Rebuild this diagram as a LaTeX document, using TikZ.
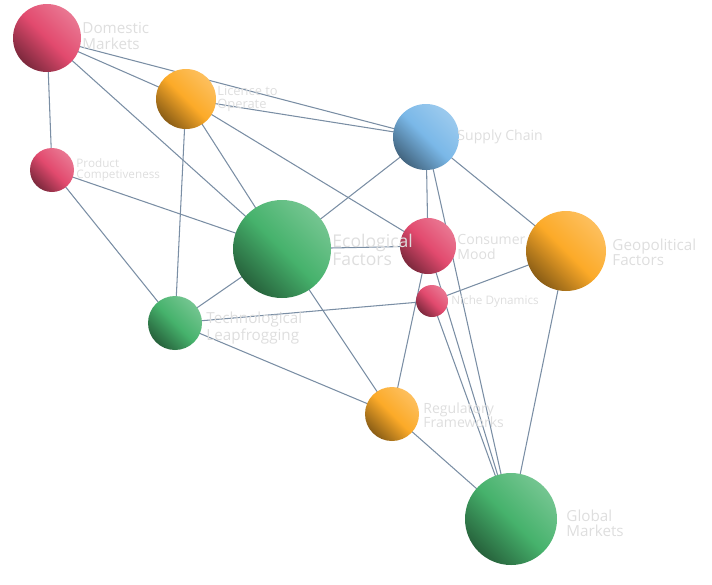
\documentclass[tikz,border=0pt]{standalone}
\usepackage{fontspec}
\setsansfont{Open Sans}
\usepackage{tikz}

\definecolor{linkcol}{RGB}{122,142,164}
\definecolor{txtcol}{RGB}{222,222,222}
\definecolor{redball}{RGB}{226,74,110}
\definecolor{orangeball}{RGB}{252,170,40}
\definecolor{blueball}{RGB}{122,184,232}
\definecolor{greenball}{RGB}{70,178,108}

\tikzset{
  ball/.style 2 args={circle, inner sep=0pt, minimum size=#2*0.06cm,
    bottom color=#1!55!black, top color=#1!75!white, middle color=#1, shading angle=-45},
  link/.style={draw=linkcol, line width=0.9pt},
  lbl/.style={anchor=west, align=left, text=txtcol, font=\sffamily\fontsize{11}{11}\selectfont, inner sep=1pt},
}

\begin{document}
\begin{tikzpicture}[x=0.03cm, y=-0.03cm]
    \useasboundingbox (0,0) rectangle (712,584);

    % positions
    \coordinate (dm) at (47,38);
    \coordinate (lo) at (186,99);
    \coordinate (sc) at (426,137);
    \coordinate (pc) at (52,170);
    \coordinate (ef) at (282,249);
    \coordinate (cm) at (428,246);
    \coordinate (gf) at (566,251);
    \coordinate (nd) at (432,301);
    \coordinate (tl) at (175,323);
    \coordinate (rf) at (392,414);
    \coordinate (gm) at (511,519);

    % links
    \foreach \a/\b in {dm/lo, dm/sc, dm/pc, dm/ef, lo/sc, lo/ef, lo/cm, lo/tl,
                       pc/ef, pc/tl, ef/sc, ef/cm, ef/tl, ef/rf, sc/cm, sc/gm,
                       sc/gf, cm/gm, cm/rf, nd/gf, nd/tl, nd/gm, tl/rf, rf/gm, gf/gm}
        \path[link] (\a) -- (\b);

    % spheres
    \node[ball={redball}{34}] (dmball) at (dm) {};
    \node[ball={orangeball}{30}] (loball) at (lo) {};
    \node[ball={blueball}{33}] (scball) at (sc) {};
    \node[ball={redball}{22}] (pcball) at (pc) {};
    \node[ball={greenball}{49}] (efball) at (ef) {};
    \node[ball={redball}{28}] (cmball) at (cm) {};
    \node[ball={orangeball}{40}] (gfball) at (gf) {};
    \node[ball={redball}{16}] (ndball) at (nd) {};
    \node[ball={greenball}{27}] (tlball) at (tl) {};
    \node[ball={orangeball}{27}] (rfball) at (rf) {};
    \node[ball={greenball}{46}] (gmball) at (gm) {};

    % labels
    \node[lbl, font=\sffamily\fontsize{13}{13}\selectfont] (dmlbl) at (81,36) {Domestic\\Markets};
    \node[lbl] (lolbl) at (216,99) {Licence to\\Operate};
    \node[lbl, font=\sffamily\fontsize{12}{12}\selectfont] (sclbl) at (456,137) {Supply Chain};
    \node[lbl, font=\sffamily\fontsize{10}{10}\selectfont] (pclbl) at (75,170) {Product\\Competiveness};
    \node[lbl, font=\sffamily\fontsize{15}{14}\selectfont] (eflbl) at (331,250) {Ecological\\Factors};
    \node[lbl, font=\sffamily\fontsize{12}{12}\selectfont] (cmlbl) at (456,247) {Consumer\\Mood};
    \node[lbl, font=\sffamily\fontsize{13}{13}\selectfont] (gflbl) at (611,252) {Geopolitical\\Factors};
    \node[lbl, font=\sffamily\fontsize{10}{10}\selectfont] (ndlbl) at (450,301) {Niche Dynamics};
    \node[lbl, font=\sffamily\fontsize{13}{13}\selectfont] (tllbl) at (205,328) {Technological\\Leapfrogging};
    \node[lbl, font=\sffamily\fontsize{12}{12}\selectfont] (rflbl) at (422,415) {Regulatory\\Frameworks};
    \node[lbl, font=\sffamily\fontsize{13}{13}\selectfont] (gmlbl) at (565,523) {Global\\Markets};
\end{tikzpicture}
\end{document}
